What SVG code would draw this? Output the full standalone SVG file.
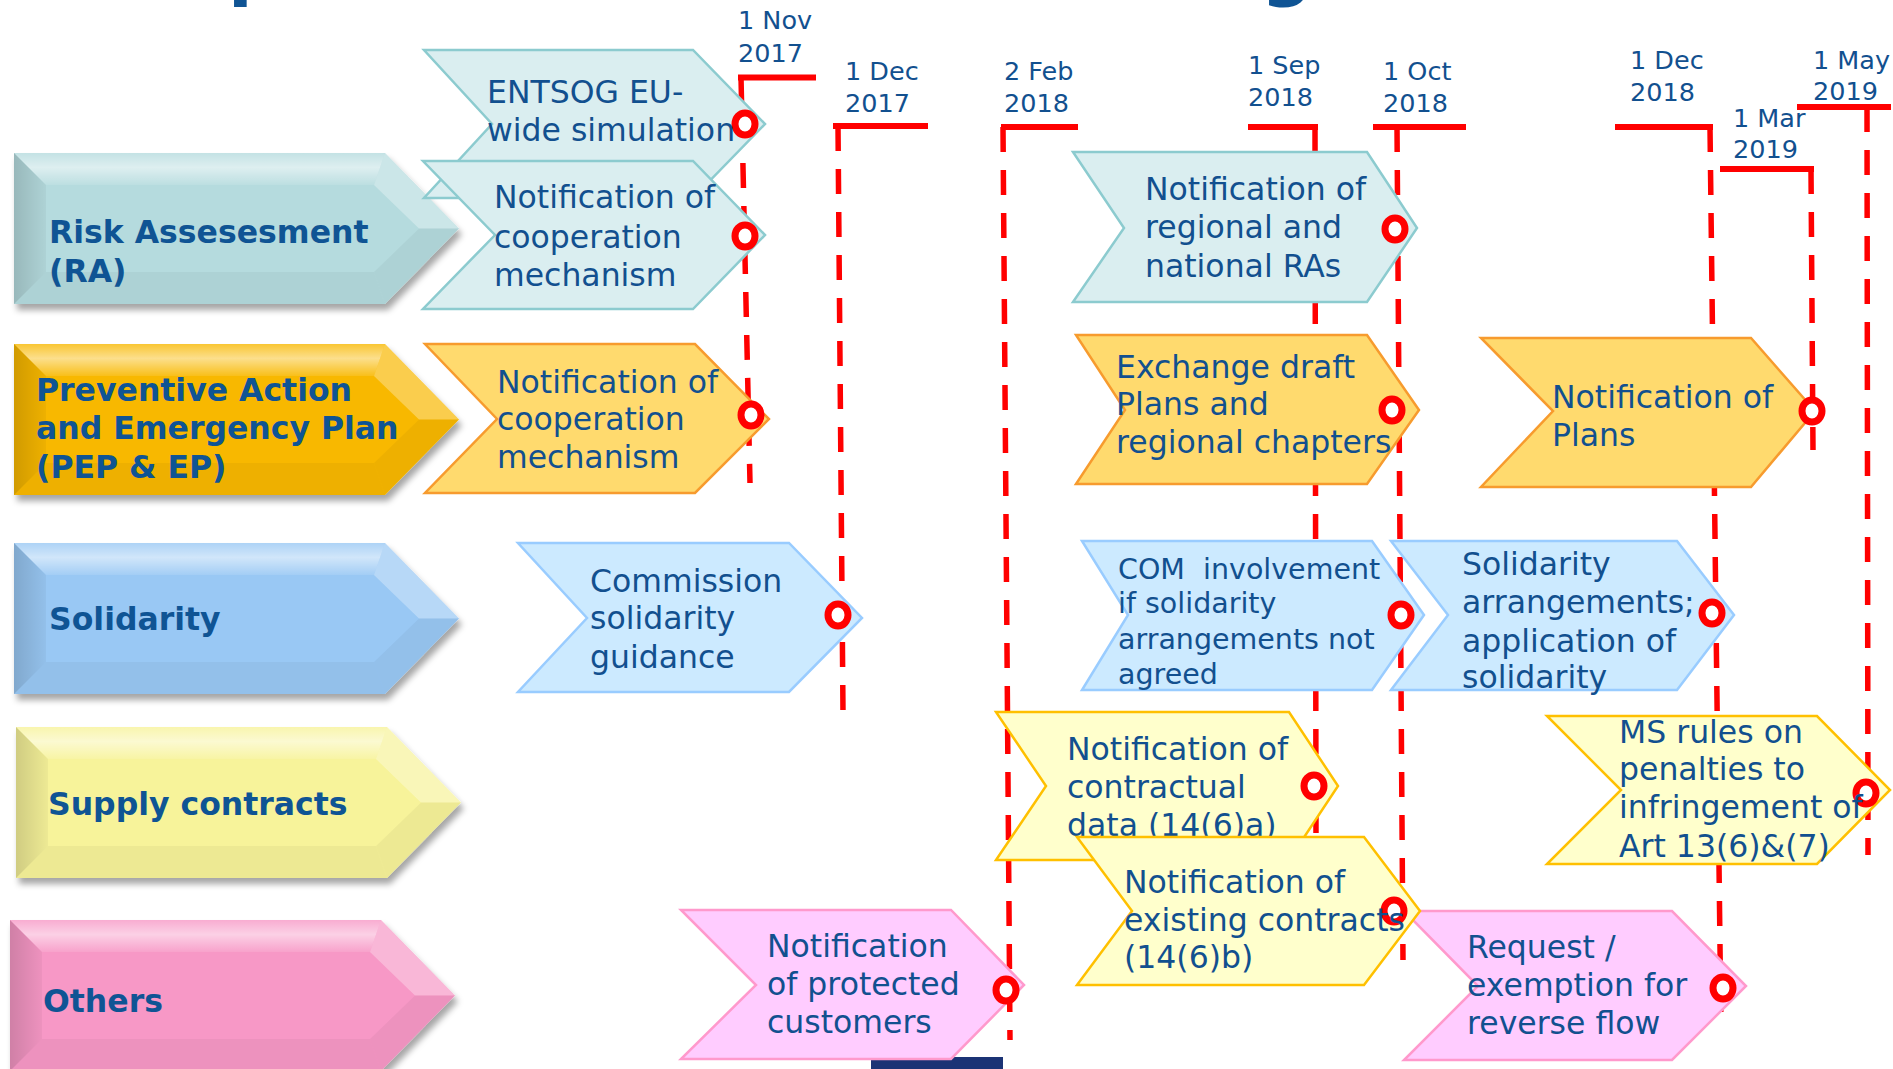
<svg xmlns="http://www.w3.org/2000/svg" xmlns:xlink="http://www.w3.org/1999/xlink" width="1893" height="1069" viewBox="0 0 1893 1069">
<defs>
<style>
.cat-text{font-family:"DejaVu Sans",Verdana,sans-serif;font-weight:bold;font-size:31.5px;fill:#0F5494}
.task-text{font-family:"DejaVu Sans",Verdana,sans-serif;font-size:31.5px;fill:#12508F}
.task-small{font-size:28.5px}
.date{font-family:"DejaVu Sans",Verdana,sans-serif;font-size:25.5px;fill:#12508F}
.title{font-family:"DejaVu Sans",Verdana,sans-serif;font-weight:bold;font-size:72px;fill:#0F5494}
.bar{stroke:#FF0000;stroke-width:6;fill:none}
.dash{stroke:#FF0000;stroke-width:5.5;stroke-dasharray:25 18;fill:none}
.ms{fill:#FFFFFF;stroke:#FF0000;stroke-width:7}
.t-ra{fill:#DAEEF0;stroke:#8CCBCF;stroke-width:2.5}
.t-pep{fill:#FFDA6E;stroke:#F79B2E;stroke-width:2.5}
.t-sol{fill:#CCEAFF;stroke:#99CCFF;stroke-width:2.5}
.t-sup{fill:#FFFFCC;stroke:#FFC000;stroke-width:2.5}
.t-oth{fill:#FFCCFF;stroke:#FF99CC;stroke-width:2.5}
.c-ra{fill:#B5DBDE}
.c-pep{fill:#F8B800}
.c-sol{fill:#99C8F4}
.c-sup{fill:#F7F39A}
.c-oth{fill:#F798C6}
</style>
<filter id="shadow" x="-5%" y="-10%" width="115%" height="130%">
<feDropShadow dx="3" dy="6" stdDeviation="3" flood-color="#000" flood-opacity="0.35"/>
</filter>
<linearGradient id="topHi" x1="0" y1="0" x2="0" y2="1">
<stop offset="0" stop-color="#FFFFFF" stop-opacity="0.2"/>
<stop offset="0.45" stop-color="#FFFFFF" stop-opacity="0.55"/>
<stop offset="1" stop-color="#FFFFFF" stop-opacity="0.1"/>
</linearGradient>
<linearGradient id="leftSh" x1="0" y1="0" x2="1" y2="0">
<stop offset="0" stop-color="#000000" stop-opacity="0.16"/>
<stop offset="1" stop-color="#000000" stop-opacity="0.04"/>
</linearGradient>
<g id="catShape">
<path d="M0,0 H371 L445,75.5 L371,151 H0 Z" filter="url(#shadow)"/>
<path d="M0,0 H371 L360,32 H32 Z" fill="url(#topHi)"/>
<path d="M0,0 L32,32 V119 L0,151 Z" fill="url(#leftSh)"/>
<path d="M0,151 L32,119 H360 L371,151 Z" fill="#000" fill-opacity="0.04"/>
<path d="M371,0 L445,75.5 H405 L360,32 Z" fill="#FFFFFF" fill-opacity="0.3"/>
<path d="M360,119 L405,75.5 H445 L371,151 Z" fill="#000" fill-opacity="0.04"/>
</g>
</defs>

<rect width="1893" height="1069" fill="#FFFFFF"/>

<g id="title-fragments">
<text class="title" x="228" y="-8">p</text>
<text class="title" x="1261" y="-8">g</text>
</g>

<rect id="footer-bar" x="871" y="1057" width="132" height="12" fill="#1B3375"/>

<g id="cat-ra">
<use xlink:href="#catShape" href="#catShape" x="14" y="153" class="c-ra"/>
<text class="cat-text" x="49" y="243">Risk Assesesment</text>
<text class="cat-text" x="49" y="282">(RA)</text>
</g>
<g id="cat-pep">
<use xlink:href="#catShape" href="#catShape" x="14" y="344" class="c-pep"/>
<text class="cat-text" x="36" y="401">Preventive Action</text>
<text class="cat-text" x="36" y="439">and Emergency Plan</text>
<text class="cat-text" x="36" y="478">(PEP &amp; EP)</text>
</g>
<g id="cat-sol">
<use xlink:href="#catShape" href="#catShape" x="14" y="543" class="c-sol"/>
<text class="cat-text" x="49" y="630">Solidarity</text>
</g>
<g id="cat-sup">
<use xlink:href="#catShape" href="#catShape" x="16" y="727" class="c-sup"/>
<text class="cat-text" x="48" y="815">Supply contracts</text>
</g>
<g id="cat-oth">
<use xlink:href="#catShape" href="#catShape" x="10" y="920" class="c-oth"/>
<text class="cat-text" x="43" y="1012">Others</text>
</g>

<g id="connectors">
<path class="bar" d="M738,77.5 H816"/>
<path class="dash" d="M741,77 L750,483"/>
<path class="bar" d="M833,126 H928"/>
<path class="dash" d="M838,126 L843,712"/>
<path class="bar" d="M1001,127 H1078"/>
<path class="dash" d="M1003,127 L1010,1040"/>
<path class="bar" d="M1248,127 H1318"/>
<path class="dash" d="M1315,127 L1316,833"/>
<path class="bar" d="M1373,127 H1466"/>
<path class="dash" d="M1397,127 L1403,960"/>
<path class="bar" d="M1615,127 H1713"/>
<path class="dash" d="M1710,127 L1721,1028"/>
<path class="bar" d="M1720,169 H1814"/>
<path class="dash" d="M1811,169 L1813,450"/>
<path class="bar" d="M1797,107 H1891"/>
<path class="dash" d="M1867,107 L1868,855"/>
</g>

<g id="dates">
<text class="date" x="738" y="29">1 Nov</text><text class="date" x="738" y="62">2017</text>
<text class="date" x="845" y="80">1 Dec</text><text class="date" x="845" y="112">2017</text>
<text class="date" x="1004" y="80">2 Feb</text><text class="date" x="1004" y="112">2018</text>
<text class="date" x="1248" y="74">1 Sep</text><text class="date" x="1248" y="106">2018</text>
<text class="date" x="1383" y="80">1 Oct</text><text class="date" x="1383" y="112">2018</text>
<text class="date" x="1630" y="69">1 Dec</text><text class="date" x="1630" y="101">2018</text>
<text class="date" x="1733" y="127">1 Mar</text><text class="date" x="1733" y="158">2019</text>
<text class="date" x="1813" y="69">1 May</text><text class="date" x="1813" y="100">2019</text>
</g>

<g id="task-entsog">
<polygon class="t-ra" points="424,50 693,50 765,124 693,198 424,198 492,124"/>
<ellipse class="ms" cx="745" cy="124" rx="10" ry="11"/>
<text class="task-text" x="487" y="103">ENTSOG EU-</text>
<text class="task-text" x="487" y="141">wide simulation</text>
</g>
<g id="task-ra-coop">
<polygon class="t-ra" points="423,161 693,161 765,235 693,309 423,309 495,235"/>
<ellipse class="ms" cx="745" cy="236" rx="10" ry="11"/>
<text class="task-text" x="494" y="208">Notification of</text>
<text class="task-text" x="494" y="248">cooperation</text>
<text class="task-text" x="494" y="286">mechanism</text>
</g>
<g id="task-pep-coop">
<polygon class="t-pep" points="425,344 695,344 769,419 695,493 425,493 497,419"/>
<ellipse class="ms" cx="751" cy="415" rx="10" ry="11"/>
<text class="task-text" x="497" y="393">Notification of</text>
<text class="task-text" x="497" y="430">cooperation</text>
<text class="task-text" x="497" y="468">mechanism</text>
</g>
<g id="task-com-guidance">
<polygon class="t-sol" points="518,543 789,543 862,618 789,692 518,692 587,618"/>
<ellipse class="ms" cx="838" cy="615" rx="10" ry="11"/>
<text class="task-text" x="590" y="592">Commission</text>
<text class="task-text" x="590" y="629">solidarity</text>
<text class="task-text" x="590" y="668">guidance</text>
</g>
<g id="task-regional-ras">
<polygon class="t-ra" points="1073,152 1367,152 1417,228 1367,302 1073,302 1124,228"/>
<ellipse class="ms" cx="1395" cy="229" rx="10" ry="11"/>
<text class="task-text" x="1145" y="200">Notification of</text>
<text class="task-text" x="1145" y="238">regional and</text>
<text class="task-text" x="1145" y="277">national RAs</text>
</g>
<g id="task-exchange">
<polygon class="t-pep" points="1076,335 1367,335 1419,410 1367,484 1076,484 1125,410"/>
<ellipse class="ms" cx="1392" cy="410" rx="10" ry="11"/>
<text class="task-text" x="1116" y="378">Exchange draft</text>
<text class="task-text" x="1116" y="415">Plans and</text>
<text class="task-text" x="1116" y="453">regional chapters</text>
</g>
<g id="task-plans">
<polygon class="t-pep" points="1481,338 1751,338 1815,411 1751,487 1481,487 1553,411"/>
<ellipse class="ms" cx="1812" cy="411" rx="10" ry="11"/>
<text class="task-text" x="1552" y="408">Notification of</text>
<text class="task-text" x="1552" y="446">Plans</text>
</g>
<g id="task-com-involvement">
<polygon class="t-sol" points="1082,541 1372,541 1424,615 1372,690 1082,690 1128,615"/>
<ellipse class="ms" cx="1401" cy="615" rx="10" ry="11"/>
<text class="task-text task-small" x="1118" y="579" xml:space="preserve">COM  involvement</text>
<text class="task-text task-small" x="1118" y="613">if solidarity</text>
<text class="task-text task-small" x="1118" y="649">arrangements not</text>
<text class="task-text task-small" x="1118" y="684">agreed</text>
</g>
<g id="task-solidarity-arr">
<polygon class="t-sol" points="1391,541 1677,541 1734,615 1677,690 1391,690 1448,615"/>
<ellipse class="ms" cx="1712" cy="613" rx="10" ry="11"/>
<text class="task-text" x="1462" y="575">Solidarity</text>
<text class="task-text" x="1462" y="613">arrangements;</text>
<text class="task-text" x="1462" y="652">application of</text>
<text class="task-text" x="1462" y="688">solidarity</text>
</g>
<g id="task-contractual">
<polygon class="t-sup" points="996,712 1289,712 1338,786 1289,860 996,860 1046,786"/>
<ellipse class="ms" cx="1314" cy="786" rx="10" ry="11"/>
<text class="task-text" x="1067" y="760">Notification of</text>
<text class="task-text" x="1067" y="798">contractual</text>
<text class="task-text" x="1067" y="836">data (14(6)a)</text>
</g>
<g id="task-reverse-flow">
<polygon class="t-oth" points="1404,911 1672,911 1746,986 1672,1060 1404,1060 1478,986"/>
<ellipse class="ms" cx="1723" cy="988" rx="10" ry="11"/>
<text class="task-text" x="1467" y="958">Request /</text>
<text class="task-text" x="1467" y="996">exemption for</text>
<text class="task-text" x="1467" y="1034">reverse flow</text>
</g>
<g id="task-existing">
<polygon class="t-sup" points="1077,837 1364,837 1420,911 1364,985 1077,985 1132,911"/>
<ellipse class="ms" cx="1394" cy="911" rx="10" ry="11"/>
<text class="task-text" x="1124" y="893">Notification of</text>
<text class="task-text" x="1124" y="931">existing contracts</text>
<text class="task-text" x="1124" y="968">(14(6)b)</text>
</g>
<g id="task-penalties">
<polygon class="t-sup" points="1547,716 1817,716 1890,790 1817,864 1547,864 1621,790"/>
<ellipse class="ms" cx="1866" cy="793" rx="10" ry="11"/>
<text class="task-text" x="1619" y="743">MS rules on</text>
<text class="task-text" x="1619" y="780">penalties to</text>
<text class="task-text" x="1619" y="818">infringement of</text>
<text class="task-text" x="1619" y="857">Art 13(6)&amp;(7)</text>
</g>
<g id="task-protected">
<polygon class="t-oth" points="681,910 951,910 1024,985 951,1059 681,1059 756,985"/>
<ellipse class="ms" cx="1006" cy="990" rx="10" ry="11"/>
<text class="task-text" x="767" y="957">Notification</text>
<text class="task-text" x="767" y="995">of protected</text>
<text class="task-text" x="767" y="1033">customers</text>
</g>
</svg>
